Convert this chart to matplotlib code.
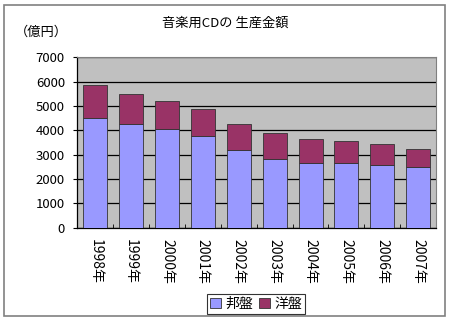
import numpy as np
import matplotlib
matplotlib.use('Agg')
import matplotlib.pyplot as plt
from matplotlib.patches import Rectangle

plt.rcParams['font.family'] = ['Noto Sans CJK JP', 'DejaVu Sans']

years = ['1998年', '1999年', '2000年', '2001年', '2002年',
         '2003年', '2004年', '2005年', '2006年', '2007年']
houban = [4510, 4260, 4040, 3750, 3210, 2830, 2670, 2670, 2570, 2500]  # 邦盤
total = [5880, 5480, 5220, 4890, 4260, 3870, 3630, 3550, 3440, 3250]
youban = [t - h for t, h in zip(total, houban)]  # 洋盤

fig = plt.figure(figsize=(4.5, 3.22), dpi=100)
ax = fig.add_axes([0.172, 0.293, 0.797, 0.529])
ax.set_facecolor('#C0C0C0')

x = np.arange(len(years))
b1 = ax.bar(x, houban, width=0.67, color='#9999FF', edgecolor='#333333', linewidth=0.6,
            label='邦盤', zorder=3)
b2 = ax.bar(x, youban, width=0.67, bottom=houban, color='#993366', edgecolor='#333333',
            linewidth=0.6, label='洋盤', zorder=3)

ax.set_xlim(-0.5, len(years) - 0.5)
ax.set_ylim(0, 7000)
ax.set_yticks(range(0, 7001, 1000))
ax.yaxis.grid(True, color='black', linewidth=0.9, zorder=1)
ax.tick_params(axis='y', labelsize=9.5, length=3, direction='out', pad=6)

ax.set_xticks(x)
ax.set_xticklabels(years, rotation=-90, fontsize=10)
ax.tick_params(axis='x', which='major', length=0, pad=8)
ax.set_xticks(np.arange(-0.5, len(years), 1), minor=True)
ax.tick_params(axis='x', which='minor', length=3, direction='in')

for s in ['left', 'bottom']:
    ax.spines[s].set_color('black')
    ax.spines[s].set_linewidth(0.9)
for s in ['top', 'right']:
    ax.spines[s].set_color('#808080')
    ax.spines[s].set_linewidth(0.8)

fig.text(0.5, 0.928, '音楽用CDの 生産金額', ha='center', va='center', fontsize=9.5)
fig.text(0.092, 0.9, '（億円）', ha='center', va='center', fontsize=9.5)

leg = fig.legend(handles=[b1, b2], loc='center', bbox_to_anchor=(0.569, 0.056),
                 ncol=2, fontsize=10, frameon=True, fancybox=False,
                 handlelength=0.8, handleheight=0.8, handletextpad=0.3,
                 columnspacing=0.4, borderpad=0.2, borderaxespad=0)
leg.get_frame().set_edgecolor('black')
leg.get_frame().set_linewidth(0.8)

fig.patches.append(Rectangle((0.009, 0.018), 0.98, 0.968, transform=fig.transFigure,
                             fill=False, edgecolor='#808080', linewidth=1.2))

fig.savefig('out.png', dpi=100)
